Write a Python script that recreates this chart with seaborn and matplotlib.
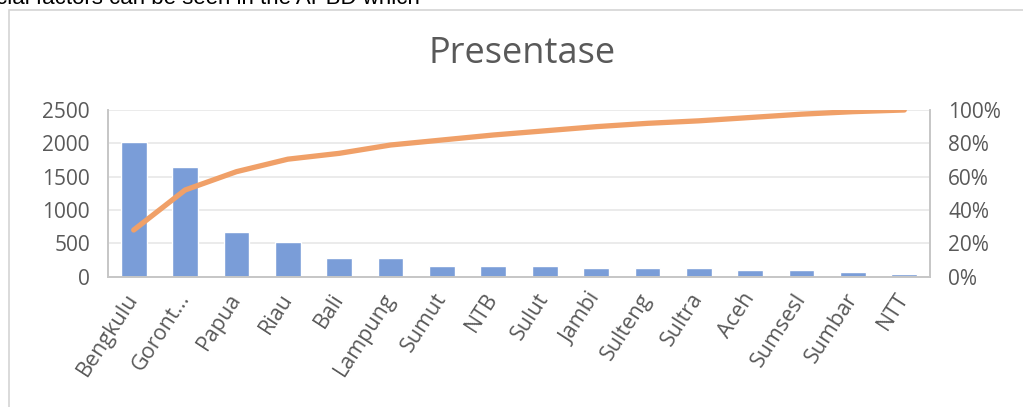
import matplotlib.pyplot as plt
import matplotlib.patches as mpatches
import matplotlib.ticker as mticker
import numpy as np
import seaborn as sns

# Data
regions = ["Bengkulu", "Goront...", "Papua", "Riau", "Bali", "Lampung", "Sumut", "NTB",
           "Sulut", "Jambi", "Sulteng", "Sultra", "Aceh", "Sumsesl", "Sumbar", "NTT"]
counts = [2015, 1650, 665, 515, 280, 275, 160, 158, 158, 128, 125, 125, 98, 95, 65, 35]
cum_pct = [0.28, 0.52, 0.63, 0.705, 0.74, 0.79, 0.82, 0.85, 0.875, 0.90, 0.92, 0.935,
           0.955, 0.975, 0.99, 1.00]

sns.set_style("white")
plt.rcParams["font.family"] = ["Open Sans", "DejaVu Sans"]
grey = "#595959"

fig = plt.figure(figsize=(10.23, 4.07), dpi=100)

# chart frame and the clipped document text above it
fig.patches.append(mpatches.Rectangle((9 / 1023, -0.01), 1.02, 1 - 10 / 407 + 0.01,
                                      transform=fig.transFigure, fill=False,
                                      edgecolor="#d4d4d4", linewidth=1.2))
fig.text(-0.004, 1 - 4 / 407, "cial factors can be seen in the APBD which",
         family="Liberation Sans", fontsize=16, color="black", va="baseline", ha="left")

ax = fig.add_axes([108 / 1023, 1 - 276.7 / 407, 822 / 1023, 166.7 / 407])
sns.barplot(x=regions, y=counts, color="#7a9dd8", saturation=1, width=0.5, ax=ax)
ax.set_xlim(-0.5, len(regions) - 0.5)
ax.set_ylim(0, 2500)
ax.set_yticks(np.arange(0, 2501, 500))
ax.yaxis.grid(True, color="#e8e8e8", linewidth=1.2)
ax.set_axisbelow(True)
ax.set_xlabel("")
ax.set_ylabel("")
ax.tick_params(axis="y", length=0, pad=13, labelsize=15, labelcolor=grey)
ax.tick_params(axis="x", length=0, pad=13, labelsize=15.5, labelcolor=grey)
for lbl in ax.get_xticklabels():
    lbl.set_rotation(57)
    lbl.set_ha("right")
    lbl.set_va("center")
    lbl.set_rotation_mode("anchor")

ax2 = ax.twinx()
sns.lineplot(x=np.arange(len(regions)), y=cum_pct, color="#f0a068", linewidth=3.8,
             ax=ax2, solid_capstyle="round")
ax2.set_ylim(0, 1)
ax2.set_yticks(np.arange(0, 1.01, 0.2))
ax2.yaxis.set_major_formatter(mticker.PercentFormatter(1.0, decimals=0))
ax2.tick_params(axis="y", length=0, pad=13, labelsize=15, labelcolor=grey)
ax2.set_ylabel("")

for a in (ax, ax2):
    a.spines["top"].set_visible(False)
    for s in ("left", "right", "bottom"):
        a.spines[s].set_color("#c6c6c6")
        a.spines[s].set_linewidth(1.2)

fig.text(522 / 1023, 1 - 54 / 407, "Presentase", ha="center", va="center",
         fontsize=26, color=grey)

plt.savefig("out.png", dpi=100)
